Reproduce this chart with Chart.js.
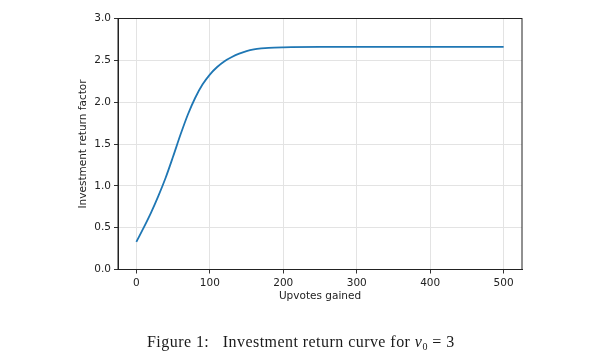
<!DOCTYPE html>
<html>
<head>
<meta charset="utf-8">
<script src="https://cdn.jsdelivr.net/npm/chart.js@4.4.1/dist/chart.umd.min.js"></script>
<style>
  html, body { margin: 0; padding: 0; background: #ffffff; }
  #wrap { position: relative; width: 613px; height: 359px; overflow: hidden; }
  #c { position: absolute; left: 0; top: 0; }
  #caption {
    position: absolute; left: 147px; top: 333.5px; line-height: 16px;
    font-family: "Liberation Serif", "DejaVu Serif", serif;
    font-size: 16px; letter-spacing: 0.45px; color: #1a1a1a; white-space: nowrap;
  }
  #caption .gap { display: inline-block; width: 9px; }
  #caption i { font-style: italic; }
  #caption sub { font-size: 10px; vertical-align: -3px; line-height: 0; }
</style>
</head>
<body>
<div id="wrap">
  <canvas id="c" width="613" height="359"></canvas>
  <div id="caption">Figure 1:<span class="gap"></span> Investment return curve for <i>v</i><sub>0</sub> = 3</div>
</div>
<script>
// Data
const upvotes = [0, 10, 20, 30, 40, 50, 60, 70, 80, 90, 100, 110, 120, 130, 140, 150, 160, 170, 180, 200, 250, 300, 350, 400, 450, 500];
const returnFactor = [0.33, 0.50, 0.68, 0.88, 1.10, 1.35, 1.61, 1.85, 2.05, 2.21, 2.33, 2.42, 2.49, 2.54, 2.58, 2.61, 2.63, 2.642, 2.65, 2.656, 2.66, 2.66, 2.66, 2.66, 2.66, 2.66];
const xTicks = [0, 100, 200, 300, 400, 500];
const yTicks = [0.0, 0.5, 1.0, 1.5, 2.0, 2.5, 3.0];
const xLabel = "Upvotes gained";
const yLabel = "Investment return factor";

const frame = {
  id: 'frame',
  afterDraw(chart) {
    const a = chart.chartArea, ctx = chart.ctx;
    ctx.save();
    ctx.strokeStyle = '#222';
    ctx.lineWidth = 1;
    ctx.strokeRect(a.left, a.top, a.right - a.left, a.bottom - a.top);
    ctx.restore();
  }
};

const tickFont = { family: "'DejaVu Sans', sans-serif", size: 10.5 };

new Chart(document.getElementById('c'), {
  type: 'scatter',
  data: {
    datasets: [{
      data: upvotes.map((x, i) => ({ x: x, y: returnFactor[i] })),
      showLine: true,
      borderColor: '#1f77b4',
      borderWidth: 1.8,
      pointRadius: 0,
      cubicInterpolationMode: 'monotone',
      fill: false
    }]
  },
  options: {
    responsive: false,
    animation: false,
    devicePixelRatio: 1,
    layout: { padding: { left: 70, right: 91, top: 18.5, bottom: 54.5 } },
    plugins: { legend: { display: false }, tooltip: { enabled: false } },
    scales: {
      x: {
        type: 'linear',
        min: -25, max: 525,
        afterBuildTicks: (s) => { s.ticks = xTicks.map(v => ({ value: v })); },
        afterFit: (s) => { s.height = 35; },
        grid: { color: '#e3e3e3', lineWidth: 1, drawTicks: true, tickLength: 4, tickColor: '#333' },
        border: { display: true, color: '#222', width: 1 },
        ticks: { font: tickFont, color: '#222', padding: 3, maxRotation: 0, autoSkip: false },
        title: { display: true, text: xLabel, font: tickFont, color: '#222', padding: { top: 0, bottom: 2.2 } }
      },
      y: {
        type: 'linear',
        min: 0, max: 3,
        afterBuildTicks: (s) => { s.ticks = yTicks.map(v => ({ value: v })); },
        afterFit: (s) => { s.width = 48; },
        grid: { color: '#e3e3e3', lineWidth: 1, drawTicks: true, tickLength: 4, tickColor: '#333' },
        border: { display: true, color: '#222', width: 1 },
        ticks: { font: tickFont, color: '#222', padding: 3, autoSkip: false, callback: (v) => Number(v).toFixed(1) },
        title: { display: true, text: yLabel, font: tickFont, color: '#222', padding: { top: 7.4, bottom: 0 } }
      }
    }
  },
  plugins: [frame]
});
</script>
</body>
</html>
